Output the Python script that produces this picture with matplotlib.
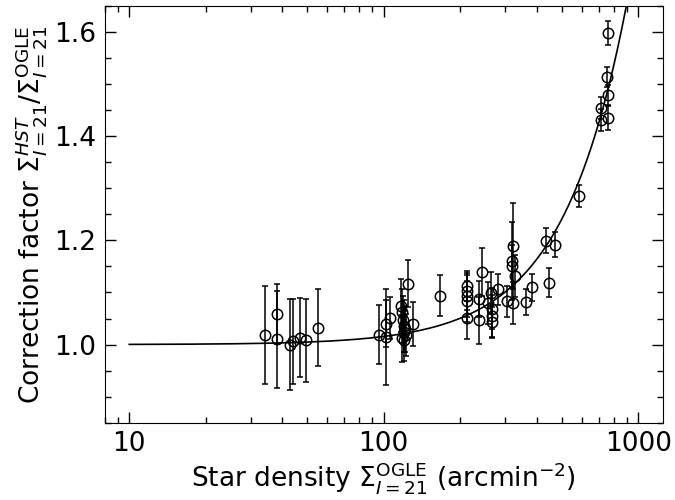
import numpy as np
import matplotlib.pyplot as plt

# Star density (arcmin^-2), correction factor and its error
density = [34, 38, 38, 43, 44, 46.7, 49.7, 55,
           96, 102, 102, 106,
           117, 118, 119, 120, 120, 121, 122, 118, 120, 124, 130,
           167, 212, 212, 212, 212, 212, 237, 237, 244,
           258, 265, 267, 267, 267, 282, 304,
           321, 320, 318, 327, 321, 362, 382,
           435, 447, 471, 586,
           714, 714, 757, 764, 764, 764]
factor = [1.018, 1.059, 1.010, 1.000, 1.006, 1.013, 1.008, 1.032,
          1.019, 1.015, 1.040, 1.051,
          1.075, 1.062, 1.048, 1.035, 1.025, 1.030, 1.018, 1.012, 1.008, 1.117, 1.040,
          1.094, 1.112, 1.102, 1.093, 1.083, 1.051, 1.088, 1.047, 1.139,
          1.080, 1.099, 1.069, 1.055, 1.043, 1.106, 1.083,
          1.189, 1.160, 1.151, 1.131, 1.080, 1.081, 1.110,
          1.199, 1.119, 1.192, 1.285,
          1.455, 1.431, 1.514, 1.479, 1.435, 1.599]
factor_err = [0.094, 0.058, 0.093, 0.087, 0.082, 0.076, 0.080, 0.074,
              0.057, 0.092, 0.045, 0.041,
              0.050, 0.045, 0.045, 0.050, 0.040, 0.045, 0.040, 0.045, 0.040, 0.045, 0.042,
              0.039, 0.029, 0.035, 0.040, 0.040, 0.040, 0.035, 0.045, 0.046,
              0.040, 0.040, 0.040, 0.040, 0.030, 0.030, 0.030,
              0.082, 0.075, 0.040, 0.040, 0.040, 0.025, 0.026,
              0.024, 0.028, 0.024, 0.021,
              0.021, 0.021, 0.019, 0.020, 0.023, 0.023]

# fitted relation: 1 + a * density**b
fit_a = 6.2e-6
fit_b = 1.7

fig = plt.figure(figsize=(6.75, 5), dpi=100)
ax = fig.add_axes([0.155, 0.1546, 0.827, 0.8334])

xfit = np.logspace(1, 3, 400)
ax.plot(xfit, 1 + fit_a * xfit ** fit_b, color='black', lw=1.2)

ax.errorbar(density, factor, yerr=factor_err, fmt='o', mfc='none', mec='black',
            ms=7.5, mew=1.1, ecolor='black', elinewidth=1.1, capsize=2.3, capthick=1.1)

ax.set_xscale('log')
ax.set_xlim(8, 1250)
ax.set_ylim(0.85, 1.65)
ax.set_yticks([1.0, 1.2, 1.4, 1.6])
ax.set_yticks(np.arange(0.85, 1.651, 0.05), minor=True)
ax.set_xticks([10, 100, 1000])
ax.set_xticklabels(['10', '100', '1000'])

ax.tick_params(which='both', direction='in', top=True, right=True, labelsize=19)
ax.tick_params(which='major', length=8, width=1, pad=6)
ax.tick_params(which='minor', length=4.5, width=1)

ax.set_xlabel(r'Star density $\Sigma^{\rm OGLE}_{I=21}$ (arcmin$^{-2}$)', fontsize=19, labelpad=2)
ax.set_ylabel(r'Correction factor $\Sigma^{HST}_{I=21}/\Sigma^{\rm OGLE}_{I=21}$', fontsize=19, labelpad=4)

fig.savefig('out.png', dpi=100)
